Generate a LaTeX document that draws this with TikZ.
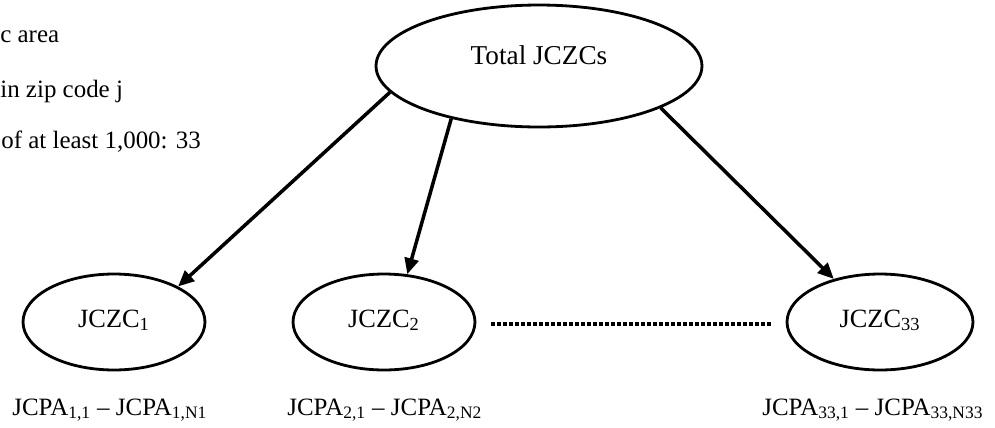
\documentclass[tikz,border=0pt]{standalone}
\usepackage{fontspec}
\setmainfont{Liberation Serif}
\usetikzlibrary{arrows.meta,shapes.geometric}

\begin{document}
\begin{tikzpicture}[x=0.02cm,y=-0.02cm,>={Triangle[length=0.32cm,width=0.28cm]},
  every node/.style={font=\fontsize{14.2}{17}\selectfont,inner sep=0pt},
  zc/.style={ellipse,draw,line width=1.6pt,minimum height=1.92cm,text height=0.4cm,text depth=0.2cm,font=\fontsize{15}{18}\selectfont},
  link/.style={->,line width=2pt},
  dots/.style={line width=0.07cm,dash pattern=on 0.08cm off 0.04cm}]
  \clip (0,0) rectangle (995,427);
  % notes, cut off at the left edge
  \node[anchor=base west] (area) at (0,42) {c area};
  \node[anchor=base west] (zip) at (0,97) {in zip code j};
  \node[anchor=base west] (least) at (1,148) {of at least 1,000: 33};
  % ellipses
  \node[zc,minimum width=6.52cm,minimum height=2.44cm,text depth=0.48cm,font=\fontsize{15.5}{18}\selectfont] (total) at (539,66) {Total JCZCs};
  \node[zc,minimum width=3.64cm] (z1) at (114,322) {JCZC\textsubscript{1}};
  \node[zc,minimum width=3.64cm] (z2) at (384,322) {JCZC\textsubscript{2}};
  \node[zc,minimum width=3.72cm] (z33) at (880,322) {JCZC\textsubscript{33}};
  % arrows
  \draw[link] (total.190) -- (z1.29);
  \draw[link] (total.211) -- (z2.64);
  \draw[link] (total.341) -- (z33.137);
  \draw[dots] ([xshift=0.3cm,yshift=-0.04cm]z2.east) -- ([xshift=-0.28cm,yshift=-0.04cm]z33.west);
  % zip code areas under each
  \node[anchor=base west] (pa1) at (12,415) {JCPA\textsubscript{1,1} -- JCPA\textsubscript{1,N1}};
  \node[anchor=base west] (pa2) at (287,415) {JCPA\textsubscript{2,1} -- JCPA\textsubscript{2,N2}};
  \node[anchor=base west] (pa33) at (762,415) {JCPA\textsubscript{33,1} -- JCPA\textsubscript{33,N33}};
\end{tikzpicture}
\end{document}
